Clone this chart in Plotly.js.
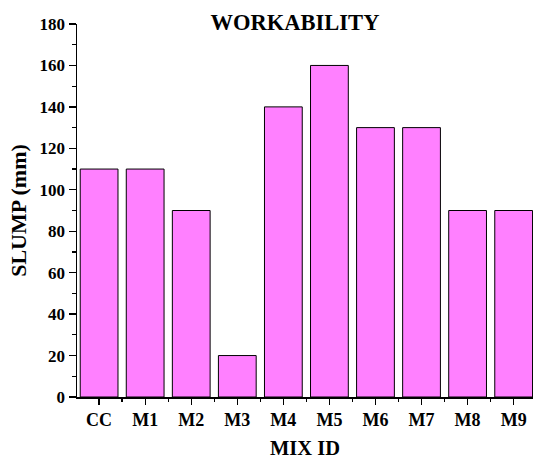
<!DOCTYPE html>
<html>
<head>
<meta charset="utf-8">
<script src="https://cdn.plot.ly/plotly-3.0.1.min.js"></script>
<style>html,body{margin:0;padding:0;background:#fff;}#chart{width:533px;height:459px;}</style>
</head>
<body>
<div id="chart"></div>
<script>
const categories = ["CC", "M1", "M2", "M3", "M4", "M5", "M6", "M7", "M8", "M9"];
const slump = [110, 110, 90, 20, 140, 160, 130, 130, 90, 90];
const yTicks = [0, 20, 40, 60, 80, 100, 120, 140, 160, 180];

const positions = categories.map((c, i) => i);
const fontFam = "'Times New Roman', 'Liberation Serif', 'DejaVu Serif', serif";

const trace = {
  type: "bar",
  x: positions,
  y: slump,
  width: 0.82,
  marker: { color: "#FF80FF", line: { color: "#000000", width: 1 } },
  hoverinfo: "x+y"
};

const layout = {
  width: 533,
  height: 459,
  margin: { l: 77, r: 0, t: 24, b: 62 },
  paper_bgcolor: "#ffffff",
  plot_bgcolor: "#ffffff",
  showlegend: false,
  font: { family: fontFam, color: "#000", size: 17, weight: "bold" },
  title: {
    text: "<b>WORKABILITY</b>",
    font: { family: fontFam, size: 22.5, weight: "bold", color: "#000" },
    xref: "container", yref: "container",
    x: 295 / 533, y: 1 - 22 / 459, xanchor: "center", yanchor: "middle"
  },
  xaxis: {
    range: [-0.48, 9.42],
    tickmode: "array",
    tickvals: positions,
    ticktext: categories.map(c => "<b>" + c + "</b>"),
    ticks: "outside",
    ticklen: 6,
    tickwidth: 1.3,
    tickcolor: "#000",
    showline: true,
    linecolor: "#000",
    linewidth: 1.5,
    showgrid: false,
    zeroline: false,
    tickfont: { family: fontFam, size: 18, weight: "bold", color: "#000" },
    minor: { tickmode: "linear", tick0: 0.5, dtick: 1, ticks: "outside", ticklen: 3, tickcolor: "#000", tickwidth: 1.3, showgrid: false },
    title: { text: "<b>MIX ID</b>", font: { family: fontFam, size: 20.5, weight: "bold", color: "#000" }, standoff: 12 }
  },
  yaxis: {
    range: [0, 180],
    tickmode: "array",
    tickvals: yTicks,
    ticktext: yTicks.map(v => "<b>" + v + "</b>"),
    ticks: "outside",
    ticklen: 7,
    tickwidth: 1.3,
    tickcolor: "#000",
    showline: true,
    linecolor: "#000",
    linewidth: 1.5,
    showgrid: false,
    zeroline: false,
    tickfont: { family: fontFam, size: 17, weight: "bold", color: "#000" },
    minor: { tickmode: "linear", tick0: 10, dtick: 20, ticks: "outside", ticklen: 4, tickcolor: "#000", tickwidth: 1.3, showgrid: false },
    title: { text: "<b>SLUMP (mm)</b>", font: { family: fontFam, size: 22, weight: "bold", color: "#000" }, standoff: 7 }
  }
};

Plotly.newPlot("chart", [trace], layout, { displayModeBar: false, staticPlot: true });
</script>
</body>
</html>
